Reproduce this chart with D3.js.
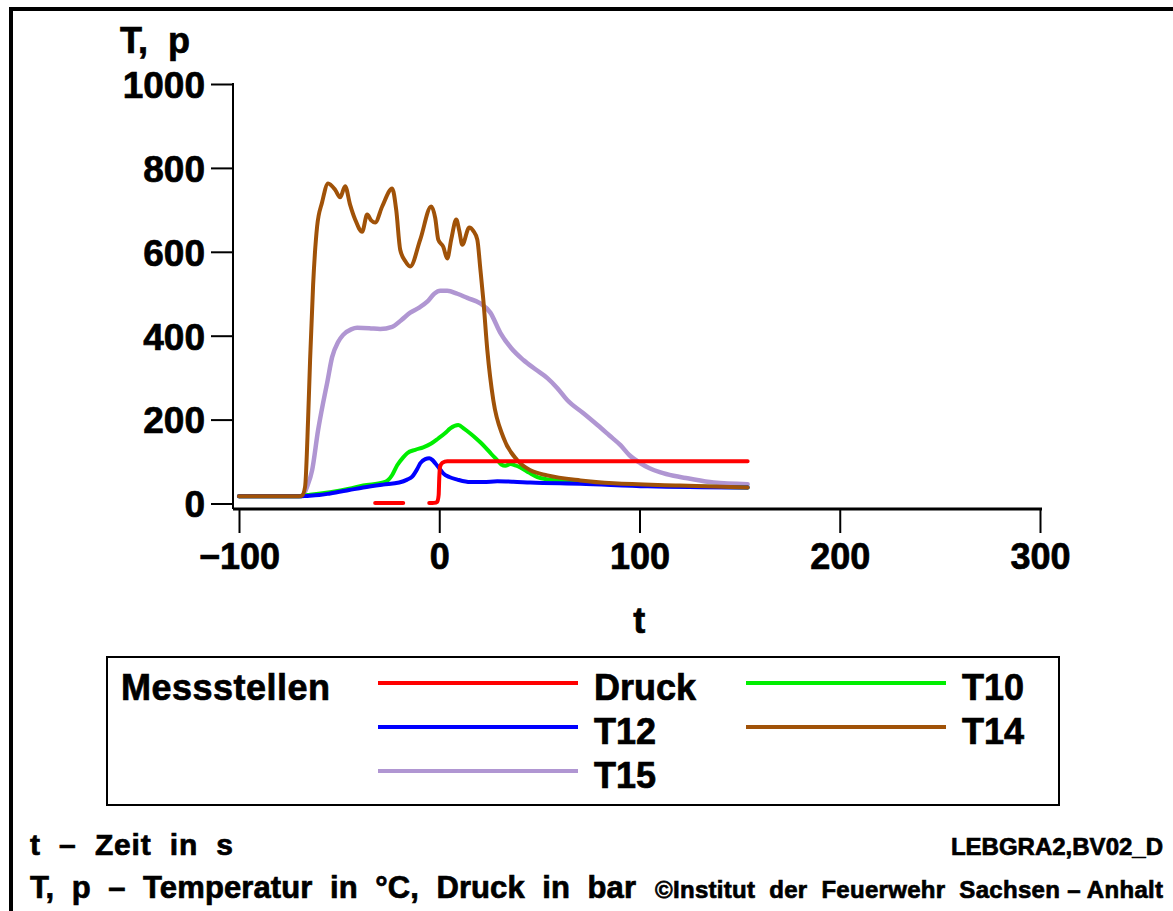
<!DOCTYPE html>
<html>
<head>
<meta charset="utf-8">
<script src="https://cdn.jsdelivr.net/npm/d3@7"></script>
<style>
  body { margin: 0; background: #fff; }
  svg { display: block; }
  text { font-family: "Liberation Sans", Arial, Helvetica, sans-serif; font-weight: bold; fill: #000; stroke: #000; stroke-width: 0.7px; white-space: pre; }
</style>
</head>
<body>
<svg id="chart" width="1173" height="911"></svg>
<script>
// measured series, [t in s, value]
const druck = [[-32,1],[-18,1],[-17,null],[-5,1],[-2.5,1.5],[-1,4],[-0.3,20],[0,60],[0.4,88],[1.5,97],[4,101],[20,101],[154,101]];
const t10 = [[-100,17],[-70,17],[-67,19],[-64.5,21],[-54.5,27],[-45,35],[-38,43],[-28,50],[-25.5,56],[-23.5,68],[-21,91],[-18,110],[-16,120],[-12,128],[-8,134],[-4,143],[-0.5,155],[3,168],[5.5,179],[9.5,187],[12.5,178],[15.5,167],[18,157],[20.5,146],[23,134],[26,118],[29,103],[31,93],[33,90],[35.5,94],[38,91],[40.5,86],[45,73],[49,63],[55,57],[62,53],[80,47],[120,41],[154,38]];
const t12 = [[-100,17],[-70,17],[-66,18],[-60,20],[-54.5,24],[-45,32],[-38,38],[-28,45],[-20,50],[-16,57],[-13.5,64],[-11,82],[-9.5,96],[-7,106],[-5,108],[-3.5,104],[-2,96],[0,84],[2,72],[5,63],[9,57],[15.5,51],[22,51],[29,53],[37,52],[45.5,50],[70.5,47],[104,41],[154,38]];
const t14 = [[-100,17],[-80,17],[-70,17],[-68.5,19],[-67,40],[-65.5,200],[-64.5,342],[-63,520],[-61,660],[-58.5,718],[-55.5,763],[-52,748],[-49.5,730],[-47,756],[-44.5,712],[-42,677],[-38.5,648],[-36,689],[-34,675],[-32,670],[-28.5,708],[-23.5,751],[-21.5,700],[-19.5,605],[-17,578],[-14.5,565],[-9.5,629],[-4,708],[-2,680],[-0.5,629],[2,612],[4,584],[6,630],[8.5,677],[10,650],[11.5,617],[15,658],[17,650],[19,629],[20.5,560],[22,486],[24,366],[27,246],[32,158],[39,103],[45.5,79],[54,67],[70.5,55],[87,48],[120,43],[154,38]];
const t15 = [[-100,17],[-75,17],[-70,17],[-68,20],[-66,40],[-63.5,79],[-60.5,175],[-58,240],[-56,287],[-53.5,349],[-50.5,385],[-48,402],[-44,415],[-41,419],[-35,418],[-29.5,416],[-23.5,421],[-19,437],[-14.5,455],[-10,467],[-6,481],[-2.5,500],[0.5,507],[4,507],[9,500],[14,490],[20.5,477],[25.5,455],[30.5,407],[36,370],[42,342],[48,320],[54,299],[59,275],[64,246],[72,215],[79,187],[85,162],[90.5,139],[95,115],[100.5,96],[105,84],[110.5,74],[117,66],[124,60],[137,50],[154,46]];

const seriesNames = ["Druck", "T10", "T12", "T14", "T15"];
const seriesData = [druck, t10, t12, t14, t15];
const seriesColors = ["#ff0000", "#00ee00", "#0000ff", "#a05208", "#b096d2"];

const xTicks = [-100, 0, 100, 200, 300];
const yTicks = [0, 200, 400, 600, 800, 1000];

const svg = d3.select("#chart");

// outer frame (only top and left edges show)
svg.append("path")
  .attr("d", "M11,911V9H1173")
  .attr("fill", "none").attr("stroke", "#000").attr("stroke-width", 4);

const x = d3.scaleLinear().domain([-100, 300]).range([239, 1040]);
const y = d3.scaleLinear().domain([0, 1000]).range([503.5, 84]);
const axisX = 233, axisY = 509;

// y axis
const gy = svg.append("g").attr("transform", `translate(${axisX},0)`)
  .call(d3.axisLeft(y).tickValues(yTicks).tickFormat(d3.format("d"))
    .tickSize(22).tickPadding(6).tickSizeOuter(0));
gy.select(".domain").remove();
gy.selectAll(".tick line").attr("stroke", "#000").attr("stroke-width", 2);
gy.selectAll(".tick text").attr("font-size", 37).attr("dy", "0.36em")
  .style("font-family", "'Liberation Sans', Arial, sans-serif").style("font-weight", "bold");
svg.append("line").attr("x1", axisX).attr("x2", axisX).attr("y1", y(1000) - 1).attr("y2", axisY)
  .attr("stroke", "#000").attr("stroke-width", 2);

// x axis
const gx = svg.append("g").attr("transform", `translate(0,${axisY})`)
  .call(d3.axisBottom(x).tickValues(xTicks).tickSize(24).tickPadding(10).tickSizeOuter(0));
gx.select(".domain").remove();
gx.selectAll(".tick line").attr("stroke", "#000").attr("stroke-width", 2);
gx.selectAll(".tick text").attr("font-size", 36).attr("dy", "0.72em")
  .style("font-family", "'Liberation Sans', Arial, sans-serif").style("font-weight", "bold");
svg.append("line").attr("x1", axisX).attr("x2", 1042).attr("y1", axisY).attr("y2", axisY)
  .attr("stroke", "#000").attr("stroke-width", 3);

svg.append("text").attr("x", 120).attr("y", 53).attr("font-size", 36).text("T,  p");
svg.append("text").attr("x", x(0) + 200).attr("y", 633).attr("font-size", 36)
  .attr("text-anchor", "middle").text("t");

// curves
const line = d3.line()
  .defined(d => d[1] != null)
  .x(d => x(d[0])).y(d => y(d[1]))
  .curve(d3.curveMonotoneX);
const drawOrder = [4, 1, 2, 3, 0];
drawOrder.forEach(i => {
  svg.append("path").datum(seriesData[i])
    .attr("d", line)
    .attr("fill", "none")
    .attr("stroke", seriesColors[i])
    .attr("stroke-width", i === 4 ? 4.5 : 4)
    .attr("stroke-linejoin", "round")
    .attr("stroke-linecap", "round");
});

// legend
svg.append("rect").attr("x", 107).attr("y", 657).attr("width", 952).attr("height", 148)
  .attr("fill", "none").attr("stroke", "#000").attr("stroke-width", 2);
svg.append("text").attr("x", 121).attr("y", 700).attr("font-size", 36)
  .attr("textLength", 209).attr("lengthAdjust", "spacing").text("Messstellen");
const legendPos = [[378, 683], [746, 683], [378, 727], [746, 727], [378, 771]];
seriesNames.forEach((name, i) => {
  const [lx, ly] = legendPos[i];
  svg.append("line").attr("x1", lx).attr("x2", lx + 200).attr("y1", ly).attr("y2", ly)
    .attr("stroke", seriesColors[i]).attr("stroke-width", 4);
  svg.append("text").attr("x", lx + 216).attr("y", ly + 17).attr("font-size", 36).text(name);
});

// footer
svg.append("text").attr("x", 30).attr("y", 855).attr("font-size", 30)
  .attr("textLength", 203).attr("lengthAdjust", "spacing").text("t  –  Zeit  in  s");
svg.append("text").attr("x", 30).attr("y", 898).attr("font-size", 31)
  .attr("textLength", 606).attr("lengthAdjust", "spacing")
  .text("T,  p  –  Temperatur  in  °C,  Druck  in  bar");
svg.append("text").attr("x", 1163).attr("y", 855).attr("font-size", 24)
  .attr("text-anchor", "end").text("LEBGRA2,BV02_D");
svg.append("text").attr("x", 655).attr("y", 898).attr("font-size", 24)
  .attr("textLength", 508).attr("lengthAdjust", "spacing")
  .text("©Institut  der  Feuerwehr  Sachsen – Anhalt");
</script>
</body>
</html>
